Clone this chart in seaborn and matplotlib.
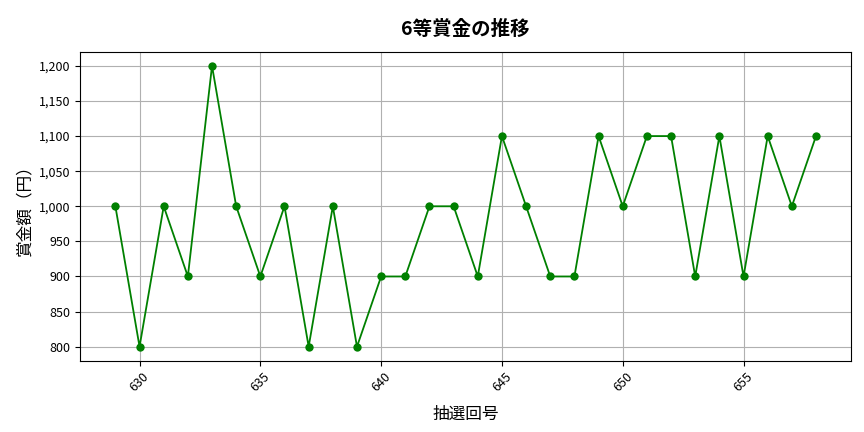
import matplotlib
matplotlib.use("Agg")
import matplotlib.pyplot as plt
import matplotlib.ticker as mticker
import seaborn as sns
import pandas as pd

draws = list(range(629, 659))
prizes = [1000, 800, 1000, 900, 1200, 1000, 900, 1000, 800, 1000,
          800, 900, 900, 1000, 1000, 900, 1100, 1000, 900, 900,
          1100, 1000, 1100, 1100, 900, 1100, 900, 1100, 1000, 1100]

plt.rcParams['font.family'] = ['Noto Sans CJK JP', 'DejaVu Sans']
df = pd.DataFrame({"draw": draws, "prize": prizes})

fig, ax = plt.subplots(figsize=(8.64, 4.32), dpi=100)
sns.lineplot(data=df, x="draw", y="prize", color="green", marker="o",
             markersize=6, markeredgewidth=0, linewidth=1.3, ax=ax)
ax.set_title("6等賞金の推移", fontsize=14, fontweight="bold", pad=12)
ax.set_xlabel("抽選回号", fontsize=12, labelpad=8)
ax.set_ylabel("賞金額（円）", fontsize=12)
ax.grid(True, color="#b0b0b0", linewidth=0.8)
ax.yaxis.set_major_formatter(mticker.FuncFormatter(lambda v, p: f"{int(v):,}"))
ax.xaxis.set_major_locator(mticker.MultipleLocator(5))
plt.setp(ax.get_xticklabels(), rotation=45)
ax.tick_params(labelsize=9)
fig.subplots_adjust(left=0.093, right=0.985, top=0.88, bottom=0.165)
fig.savefig("out.png", dpi=100)
